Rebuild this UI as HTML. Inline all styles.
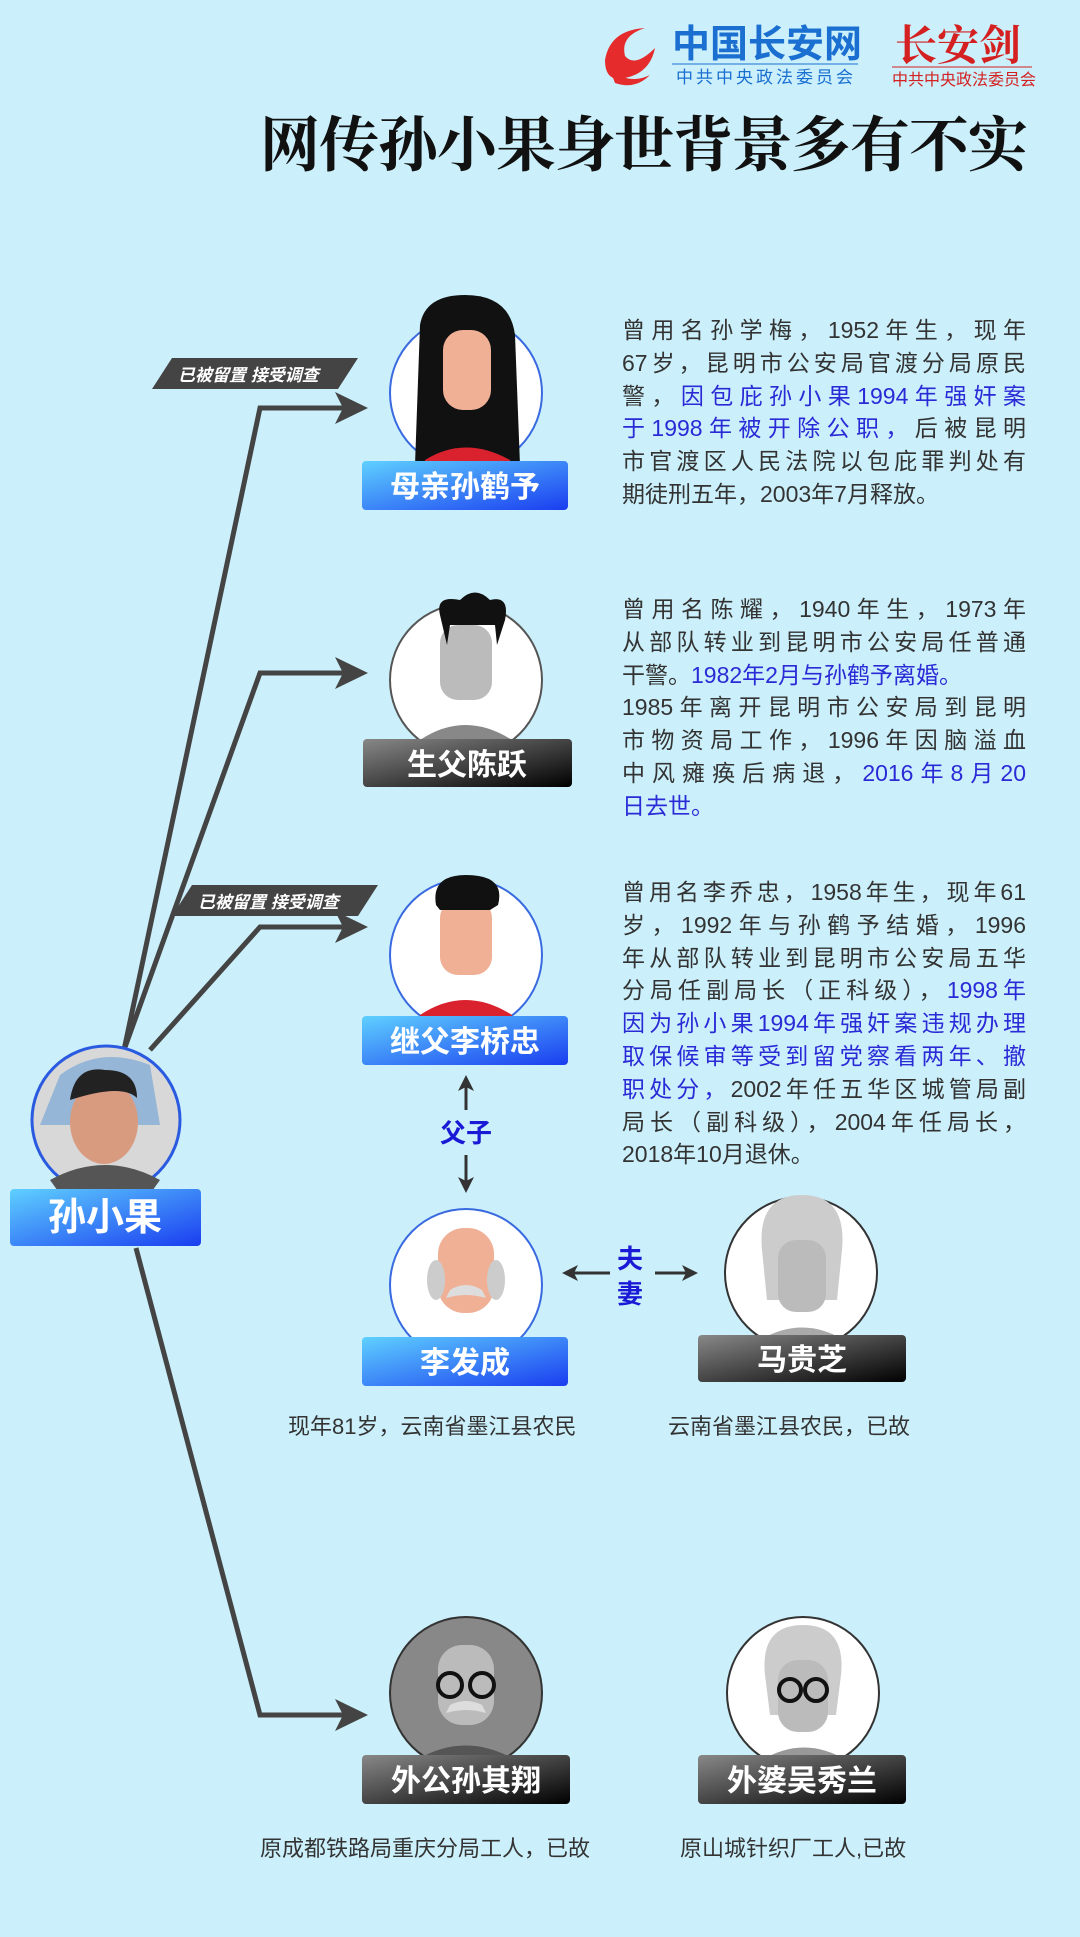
<!DOCTYPE html>
<html><head><meta charset="utf-8">
<style>
html,body{margin:0;padding:0}
body{width:1080px;height:1937px;background:#cbf0fb;position:relative;overflow:hidden;font-family:"Liberation Sans","Noto Sans CJK SC",sans-serif}
svg{position:absolute;left:0;top:0}
.p{position:absolute;left:622px;width:404px;font-size:23px;color:#333;line-height:32.8px}
.p div{text-align:justify;text-align-last:justify;white-space:nowrap;height:32.8px}
.p div.l{text-align-last:left}
.b{color:#2a2ad6}
.cap{position:absolute;font-size:22px;color:#333;white-space:nowrap}
</style></head><body>
<svg width="1080" height="1937" viewBox="0 0 1080 1937" font-family="Liberation Sans, Noto Sans CJK SC, sans-serif">
<defs>
<linearGradient id="bl" x1="0" y1="0" x2="1" y2="1"><stop offset="0" stop-color="#5fd0ff"/><stop offset="1" stop-color="#1a3df0"/></linearGradient>
<linearGradient id="gy" x1="0" y1="0" x2="1" y2="1"><stop offset="0" stop-color="#888"/><stop offset="1" stop-color="#000"/></linearGradient>
</defs>
<!-- logos -->
<path d="M605,60 q5,-30 40,-32 q-25,8 -20,28 q10,12 30,-8 q-5,25 -30,30 q-20,5 -20,-18z" fill="#e52b2b"/>
<path d="M610,70 q20,15 40,5 q-15,15 -35,8z" fill="#e52b2b"/>
<text x="672" y="57" font-size="38" font-weight="bold" fill="#1a6fd0">中国长安网</text>
<line x1="672" y1="64" x2="858" y2="64" stroke="#1a6fd0" stroke-width="1"/>
<text x="676" y="83" font-size="17" fill="#1a6fd0" letter-spacing="3">中共中央政法委员会</text>
<text x="895" y="60" font-size="42" font-weight="bold" fill="#d42020" font-family="Noto Serif CJK SC, serif">长安剑</text>
<line x1="892" y1="67" x2="1032" y2="67" stroke="#d42020" stroke-width="1"/>
<text x="892" y="85" font-size="16" fill="#d42020">中共中央政法委员会</text>
<text x="260" y="166" font-size="60" font-weight="bold" fill="#111" font-family="Noto Serif CJK SC, serif" textLength="768">网传孙小果身世背景多有不实</text>
<!-- connectors -->
<g stroke="#444" stroke-width="5" fill="none">
<polyline points="124,1050 260,408 345,408"/>
<polyline points="124,1050 260,673 345,673"/>
<polyline points="150,1050 260,927 345,927"/>
<polyline points="136,1248 260,1715 345,1715"/>
</g>
<g fill="#444">
<path d="M368,408 L335,392 L343,408 L335,424z"/>
<path d="M368,673 L335,657 L343,673 L335,689z"/>
<path d="M368,927 L335,911 L343,927 L335,943z"/>
<path d="M368,1715 L335,1699 L343,1715 L335,1731z"/>
</g>
<g stroke="#333" stroke-width="3" fill="none">
<line x1="466" y1="1085" x2="466" y2="1110"/><line x1="466" y1="1155" x2="466" y2="1185"/>
<line x1="570" y1="1273" x2="610" y2="1273"/><line x1="655" y1="1273" x2="695" y2="1273"/>
</g>
<path d="M466,1075 l-8,16 l8,-4 l8,4z M466,1193 l-8,-16 l8,4 l8,-4z M562,1273 l16,-8 l-4,8 l4,8z M698,1273 l-16,-8 l4,8 l-4,8z" fill="#333"/>
<text x="466" y="1142" font-size="26" font-weight="bold" fill="#1a1ad6" text-anchor="middle">父子</text>
<text x="630" y="1268" font-size="26" font-weight="bold" fill="#1a1ad6" text-anchor="middle">夫</text>
<text x="630" y="1303" font-size="26" font-weight="bold" fill="#1a1ad6" text-anchor="middle">妻</text>
<!-- tags -->
<g><path d="M172,358 L358,358 L338,389 L152,389z" fill="#444"/><text x="178" y="381" font-size="17" font-style="italic" font-weight="bold" fill="#fff">已被留置 接受调查</text></g>
<g><path d="M192,885 L378,885 L358,916 L172,916z" fill="#444"/><text x="198" y="908" font-size="17" font-style="italic" font-weight="bold" fill="#fff">已被留置 接受调查</text></g>
<!-- mother -->
<circle cx="466" cy="393" r="76" fill="#fff" stroke="#3a6ae0" stroke-width="2"/>
<path d="M420,325 q5,-30 45,-30 q45,0 50,40 l5,130 l-105,0z" fill="#111"/>
<rect x="443" y="330" width="48" height="80" rx="20" fill="#efb096"/>
<path d="M425,460 q40,-25 85,0 l0,8 l-85,0z" fill="#d9222e"/>
<!-- father -->
<circle cx="466" cy="680" r="76" fill="#fff" stroke="#555" stroke-width="2"/>
<rect x="440" y="625" width="52" height="75" rx="18" fill="#bbb"/>
<path d="M440,615 q-5,-20 20,-15 q15,-15 30,0 q20,-5 15,20 l-8,25 l-2,-20 l-45,0 l-3,20z" fill="#111"/>
<path d="M420,740 q45,-30 92,0 l0,10 l-92,0z" fill="#888"/>
<!-- stepfather -->
<circle cx="466" cy="955" r="76" fill="#fff" stroke="#3a6ae0" stroke-width="2"/>
<rect x="440" y="900" width="52" height="75" rx="18" fill="#efb096"/>
<path d="M436,905 q-5,-30 30,-30 q40,0 32,30 l-8,5 l-50,0z" fill="#111"/>
<path d="M420,1015 q45,-30 92,0 l0,10 l-92,0z" fill="#d9222e"/>
<!-- 孙小果 -->
<circle cx="106" cy="1120" r="74" fill="#d8d8d8" stroke="#2a5ae0" stroke-width="3"/>
<path d="M60,1075 q40,-30 90,-10 l10,60 l-120,0z" fill="#6aa0d8" opacity=".6"/>
<ellipse cx="104" cy="1122" rx="34" ry="42" fill="#d89b80"/>
<path d="M70,1100 q5,-35 35,-30 q32,0 32,28 q-15,-15 -67,2z" fill="#222"/>
<path d="M50,1180 q55,-30 110,0 l-10,14 l-90,0z" fill="#555"/>
<!-- 李发成 -->
<circle cx="466" cy="1285" r="76" fill="#fff" stroke="#3a6ae0" stroke-width="2"/>
<rect x="438" y="1228" width="56" height="85" rx="26" fill="#efb096"/>
<ellipse cx="436" cy="1280" rx="9" ry="20" fill="#ccc"/><ellipse cx="496" cy="1280" rx="9" ry="20" fill="#ccc"/>
<path d="M450,1290 q16,-10 32,0 l4,8 q-20,-6 -40,0z" fill="#ddd"/>
<path d="M420,1352 q45,-25 92,0 l0,8 l-92,0z" fill="#444"/>
<!-- 马贵芝 -->
<circle cx="801" cy="1273" r="76" fill="#fff" stroke="#333" stroke-width="2"/>
<path d="M762,1250 q-5,-55 40,-55 q45,0 40,55 l-5,50 l-70,0z" fill="#ccc"/>
<rect x="778" y="1240" width="48" height="72" rx="18" fill="#bbb"/>
<path d="M760,1340 q42,-25 84,0 l0,8 l-84,0z" fill="#aaa"/>
<!-- 外公 -->
<circle cx="466" cy="1693" r="76" fill="#888" stroke="#333" stroke-width="2"/>
<rect x="438" y="1645" width="56" height="80" rx="24" fill="#bbb"/>
<circle cx="450" cy="1685" r="12" fill="none" stroke="#111" stroke-width="4"/><circle cx="482" cy="1685" r="12" fill="none" stroke="#111" stroke-width="4"/>
<path d="M450,1705 q16,-8 32,0 l4,8 q-20,-6 -40,0z" fill="#ddd"/>
<path d="M420,1758 q45,-25 92,0 l0,8 l-92,0z" fill="#555"/>
<!-- 外婆 -->
<circle cx="803" cy="1693" r="76" fill="#fff" stroke="#333" stroke-width="2"/>
<path d="M765,1675 q-5,-50 38,-50 q43,0 38,50 l-5,40 l-66,0z" fill="#ccc"/>
<rect x="778" y="1660" width="50" height="72" rx="20" fill="#bbb"/>
<circle cx="790" cy="1690" r="11" fill="none" stroke="#111" stroke-width="4"/><circle cx="816" cy="1690" r="11" fill="none" stroke="#111" stroke-width="4"/>
<path d="M762,1760 q42,-25 84,0 l0,8 l-84,0z" fill="#999"/>
<!-- labels -->
<g font-size="30" font-weight="bold" fill="#fff" text-anchor="middle">
<rect x="362" y="461" width="206" height="49" rx="4" fill="url(#bl)"/><text x="465" y="497">母亲孙鹤予</text>
<rect x="363" y="739" width="209" height="48" rx="4" fill="url(#gy)"/><text x="467" y="775">生父陈跃</text>
<rect x="362" y="1016" width="206" height="49" rx="4" fill="url(#bl)"/><text x="465" y="1052">继父李桥忠</text>
<rect x="362" y="1337" width="206" height="49" rx="4" fill="url(#bl)"/><text x="465" y="1373">李发成</text>
<rect x="698" y="1335" width="208" height="47" rx="4" fill="url(#gy)"/><text x="802" y="1370">马贵芝</text>
<rect x="362" y="1755" width="208" height="49" rx="4" fill="url(#gy)"/><text x="466" y="1791">外公孙其翔</text>
<rect x="698" y="1755" width="208" height="49" rx="4" fill="url(#gy)"/><text x="802" y="1791">外婆吴秀兰</text>
<rect x="10" y="1189" width="191" height="57" rx="4" fill="url(#bl)"/><text x="105" y="1230" font-size="38">孙小果</text>
</g>
</svg>
<div class="p" style="top:314px">
<div>曾用名孙学梅，1952年生，现年</div>
<div>67岁，昆明市公安局官渡分局原民</div>
<div>警，<span class="b">因包庇孙小果1994年强奸案</span></div>
<div><span class="b">于1998年被开除公职，</span>后被昆明</div>
<div>市官渡区人民法院以包庇罪判处有</div>
<div class="l">期徒刑五年，2003年7月释放。</div>
</div>
<div class="p" style="top:593px">
<div>曾用名陈耀，1940年生，1973年</div>
<div>从部队转业到昆明市公安局任普通</div>
<div class="l">干警。<span class="b">1982年2月与孙鹤予离婚。</span></div>
<div>1985年离开昆明市公安局到昆明</div>
<div>市物资局工作，1996年因脑溢血</div>
<div>中风瘫痪后病退，<span class="b">2016年8月20</span></div>
<div class="l"><span class="b">日去世。</span></div>
</div>
<div class="p" style="top:876px">
<div>曾用名李乔忠，1958年生，现年61</div>
<div>岁，1992年与孙鹤予结婚，1996</div>
<div>年从部队转业到昆明市公安局五华</div>
<div>分局任副局长（正科级），<span class="b">1998年</span></div>
<div><span class="b">因为孙小果1994年强奸案违规办理</span></div>
<div><span class="b">取保候审等受到留党察看两年、撤</span></div>
<div><span class="b">职处分，</span>2002年任五华区城管局副</div>
<div>局长（副科级），2004年任局长，</div>
<div class="l">2018年10月退休。</div>
</div>
<div class="cap" style="left:288px;top:1409px">现年81岁，云南省墨江县农民</div>
<div class="cap" style="left:668px;top:1409px">云南省墨江县农民，已故</div>
<div class="cap" style="left:260px;top:1831px">原成都铁路局重庆分局工人，已故</div>
<div class="cap" style="left:680px;top:1831px">原山城针织厂工人,已故</div>
</body></html>
